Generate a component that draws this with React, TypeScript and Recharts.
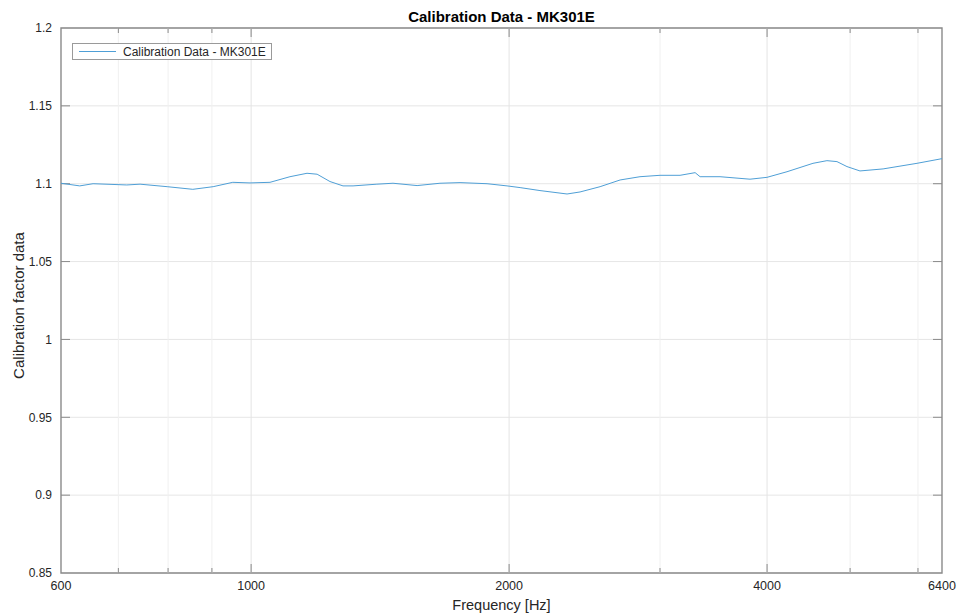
import React from 'react';
import {
  LineChart,
  Line,
  XAxis,
  YAxis,
  CartesianGrid,
  ReferenceLine,
  ReferenceArea,
  Legend,
} from 'recharts';

// ---- data ----
const frequencies = [
  600, 631, 654, 716, 742, 798, 855, 903, 952, 997, 1052, 1110, 1162, 1194, 1236, 1280, 1315,
  1402, 1464, 1562, 1661, 1753, 1885, 1989, 2060, 2173, 2337, 2420, 2554, 2695, 2843, 3000,
  3166, 3297, 3341, 3525, 3821, 3999, 4220, 4525, 4698, 4826, 4958, 5134, 5463, 5984, 6400,
];
const calibration = [
  1.1003, 1.0986, 1.1, 1.0992, 1.0997, 1.0981, 1.0964, 1.0981, 1.1009, 1.1005, 1.1009, 1.1045,
  1.1067, 1.1061, 1.1014, 1.0986, 1.0986, 1.0997, 1.1003, 1.0988, 1.1003, 1.1007, 1.1, 1.0986,
  1.0975, 1.0956, 1.0934, 1.0947, 1.0981, 1.1024, 1.1045, 1.1054, 1.1054, 1.1071, 1.1045,
  1.1045, 1.1029, 1.1041, 1.1077, 1.1131, 1.1148, 1.1142, 1.111, 1.1082, 1.1095, 1.1131, 1.1161,
];
const xMajorTicks = [600, 1000, 2000, 4000, 6400];
const xMinorTicks = [700, 800, 900, 3000, 5000, 6000];
const yTicks = [0.85, 0.9, 0.95, 1, 1.05, 1.1, 1.15, 1.2];
const seriesName = 'Calibration Data - MK301E';
const titleText = 'Calibration Data - MK301E';
const xLabel = 'Frequency [Hz]';
const yLabel = 'Calibration factor data';

const data = frequencies.map((f, i) => ({ f, v: calibration[i] }));

// ---- layout ----
const W = 957;
const H = 615;
const MARGIN = { top: 28, right: 15, left: 0, bottom: 0 };
const Y_AXIS_W = 61;
const X_AXIS_H = 42;
const X_MIN = 600;
const X_MAX = 6400;
const Y_MIN = 0.85;
const Y_MAX = 1.2;
const PLOT_W = W - MARGIN.left - MARGIN.right - Y_AXIS_W;
const PLOT_H = H - MARGIN.top - MARGIN.bottom - X_AXIS_H;
const yPerPx = (Y_MAX - Y_MIN) / PLOT_H;
const logPerPx = Math.log10(X_MAX / X_MIN) / PLOT_W;
const MAJOR_LEN = 9;
const MINOR_LEN = 5;

const FONT = '"Liberation Sans", Arial, Helvetica, sans-serif';
const TEXT = '#262626';
const AXIS = '#8a8a8a';
const LINE = '#4f9fd6';

const fmtY = (v: number) => String(+v.toFixed(2));

const LegendBox = () => (
  <div
    style={{
      width: 198,
      height: 15,
      border: '1px solid #9a9a9a',
      background: '#fff',
      display: 'flex',
      alignItems: 'center',
      fontFamily: FONT,
      fontSize: 12,
      color: TEXT,
    }}
  >
    <div style={{ width: 37, height: 0, borderTop: `1px solid ${LINE}`, marginLeft: 6, marginRight: 7 }} />
    <span>{seriesName}</span>
  </div>
);

export default function App() {
  const innerXTicks = xMajorTicks.filter((t) => t !== X_MIN && t !== X_MAX);
  const innerYTicks = yTicks.filter((t) => t !== Y_MIN && t !== Y_MAX);
  return (
    <div style={{ position: 'absolute', left: 0, top: 0, width: W, height: H, background: '#fff', fontFamily: FONT }}>
      <div
        style={{
          position: 'absolute',
          left: MARGIN.left + Y_AXIS_W,
          width: PLOT_W,
          top: 8,
          lineHeight: '17px',
          textAlign: 'center',
          fontWeight: 'bold',
          fontSize: 15,
          color: '#000',
          fontFamily: FONT,
        }}
      >
        {titleText}
      </div>
      <LineChart width={W} height={H} data={data} margin={MARGIN}>
        <CartesianGrid horizontal vertical={false} stroke="#e6e6e6" />
        {xMinorTicks.map((t) => (
          <ReferenceLine key={'mg' + t} x={t} stroke="#f0f0f0" strokeWidth={1} />
        ))}
        {innerXTicks.map((t) => (
          <ReferenceLine key={'Mg' + t} x={t} stroke="#e4e4e4" strokeWidth={1} />
        ))}
        <XAxis
          dataKey="f"
          type="number"
          scale="log"
          domain={[X_MIN, X_MAX]}
          ticks={xMajorTicks}
          interval={0}
          allowDataOverflow
          height={X_AXIS_H}
          axisLine={false}
          tickLine={false}
          tickSize={0}
          tickMargin={8}
          tick={{ fontSize: 12.5, fill: TEXT, fontFamily: FONT }}
          label={{
            content: (p: any) => {
              const vb = p.viewBox;
              return (
                <text x={vb.x + vb.width / 2} y={610} textAnchor="middle" fontSize={14.5} fill={TEXT} fontFamily={FONT}>
                  {xLabel}
                </text>
              );
            },
          }}
        />
        <YAxis
          type="number"
          domain={[Y_MIN, Y_MAX]}
          ticks={yTicks}
          interval={0}
          width={Y_AXIS_W}
          axisLine={false}
          tickLine={false}
          tickSize={0}
          tickMargin={9}
          tickFormatter={fmtY}
          tick={{ fontSize: 12, fill: TEXT, fontFamily: FONT }}
          label={{
            content: (p: any) => {
              const vb = p.viewBox;
              const cx = 18;
              const cy = vb.y + vb.height / 2 + 5;
              return (
                <text
                  x={cx}
                  y={cy}
                  transform={`rotate(-90 ${cx} ${cy})`}
                  textAnchor="middle"
                  dominantBaseline="central"
                  fontSize={15}
                  fill={TEXT}
                  fontFamily={FONT}
                >
                  {yLabel}
                </text>
              );
            },
          }}
        />
        {/* inward tick marks on all four sides */}
        {innerXTicks.map((t) => (
          <ReferenceLine key={'bt' + t} segment={[{ x: t, y: Y_MIN }, { x: t, y: Y_MIN + MAJOR_LEN * yPerPx }]} stroke={AXIS} />
        ))}
        {innerXTicks.map((t) => (
          <ReferenceLine key={'tt' + t} segment={[{ x: t, y: Y_MAX }, { x: t, y: Y_MAX - MAJOR_LEN * yPerPx }]} stroke={AXIS} />
        ))}
        {xMinorTicks.map((t) => (
          <ReferenceLine key={'bm' + t} segment={[{ x: t, y: Y_MIN }, { x: t, y: Y_MIN + MINOR_LEN * yPerPx }]} stroke={AXIS} />
        ))}
        {xMinorTicks.map((t) => (
          <ReferenceLine key={'tm' + t} segment={[{ x: t, y: Y_MAX }, { x: t, y: Y_MAX - MINOR_LEN * yPerPx }]} stroke={AXIS} />
        ))}
        {innerYTicks.map((t) => (
          <ReferenceLine key={'lt' + t} segment={[{ x: X_MIN, y: t }, { x: X_MIN * Math.pow(10, MAJOR_LEN * logPerPx), y: t }]} stroke={AXIS} />
        ))}
        {innerYTicks.map((t) => (
          <ReferenceLine key={'rt' + t} segment={[{ x: X_MAX, y: t }, { x: X_MAX / Math.pow(10, MAJOR_LEN * logPerPx), y: t }]} stroke={AXIS} />
        ))}
        <Line
          type="linear"
          dataKey="v"
          name={seriesName}
          stroke={LINE}
          strokeWidth={1}
          dot={false}
          activeDot={false}
          isAnimationActive={false}
        />
        <ReferenceArea x1={X_MIN} x2={X_MAX} y1={Y_MIN} y2={Y_MAX} fill="none" fillOpacity={0} stroke={AXIS} strokeWidth={1.4} />
        <Legend
          layout="vertical"
          align="center"
          verticalAlign="middle"
          content={() => <LegendBox />}
          wrapperStyle={{ left: 72, top: 43, width: 200, height: 17 }}
        />
      </LineChart>
    </div>
  );
}
